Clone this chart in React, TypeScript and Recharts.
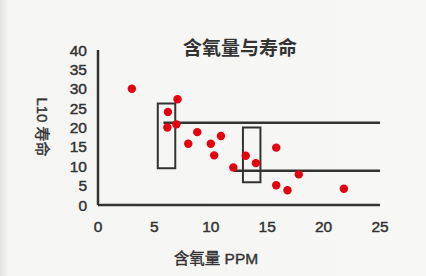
import { ScatterChart, Scatter, XAxis, YAxis, ReferenceArea, ReferenceLine } from "recharts";

// oxygen content (ppm) vs L10 life
const oxygen = [3, 6.2, 6.15, 7.05, 6.95, 8, 8.8, 10, 10.3, 10.9, 12, 13.1, 14, 15.8, 15.8, 16.8, 17.8, 21.8];
const life = [30, 24, 20, 27.3, 20.8, 15.8, 18.8, 15.8, 12.8, 17.8, 9.7, 12.7, 10.8, 14.8, 5.1, 3.8, 7.9, 4.2];

const xTicks = [0, 5, 10, 15, 20, 25];
const yTicks = [0, 5, 10, 15, 20, 25, 30, 35, 40];

// highlighted boxes [x1, x2, y1, y2] and level lines [xStart, y]
const boxes = [
  [5.3, 6.85, 9.5, 26.2],
  [12.85, 14.4, 5.9, 20],
];
const levels = [
  [5.8, 21.2],
  [12, 8.85],
];

const points = oxygen.map((x, i) => ({ x, y: life[i] }));

const FONT = "'Liberation Sans', Arial, 'Noto Sans CJK SC', sans-serif";
const INK = "#333333";
// blurry scan looks semi-bold, fake it with a thin outline
const tickStyle = { fontSize: 15.5, fill: INK, fontFamily: FONT, stroke: INK, strokeWidth: 0.45 };

export default function App() {
  return (
    <div
      style={{
        position: "fixed",
        top: 0,
        left: 0,
        width: 426,
        height: 276,
        background: "linear-gradient(90deg, #e4e2de 0px, #f5f5f3 8px, #f7f7f5 100%)",
        fontFamily: FONT,
      }}
    >
      <div
        style={{
          position: "absolute",
          left: 0,
          width: 480,
          top: 38,
          textAlign: "center",
          fontSize: 19,
          fontWeight: "bold",
          color: INK,
          lineHeight: "22px",
        }}
      >
        含氧量与寿命
      </div>
      <div
        style={{
          position: "absolute",
          left: 43,
          top: 127,
          transform: "translate(-50%, -50%) rotate(90deg)",
          fontSize: 15,
          color: INK,
          whiteSpace: "nowrap",
          WebkitTextStroke: "0.4px #333",
        }}
      >
        L10 寿命
      </div>
      <div
        style={{
          position: "absolute",
          left: 216,
          top: 257,
          transform: "translate(-50%, -50%)",
          fontSize: 15.5,
          color: INK,
          whiteSpace: "nowrap",
          WebkitTextStroke: "0.4px #333",
        }}
      >
        含氧量 PPM
      </div>
      <ScatterChart width={426} height={276} margin={{ top: 50, right: 46, left: 38, bottom: 31 }}>
        <XAxis
          type="number"
          dataKey="x"
          domain={[0, 25]}
          ticks={xTicks}
          height={40}
          axisLine={{ stroke: INK, strokeWidth: 2.5 }}
          tickLine={false}
          tickSize={8}
          tickMargin={8}
          tick={tickStyle}
        />
        <YAxis
          type="number"
          dataKey="y"
          domain={[0, 40]}
          ticks={yTicks}
          width={60}
          axisLine={{ stroke: INK, strokeWidth: 2.5 }}
          tickLine={false}
          tickSize={6}
          tickMargin={5}
          interval={0}
          tick={tickStyle}
        />
        {boxes.map(([x1, x2, y1, y2], i) => (
          <ReferenceArea
            key={"b" + i}
            x1={x1}
            x2={x2}
            y1={y1}
            y2={y2}
            fill="none"
            fillOpacity={0}
            stroke={INK}
            strokeWidth={2}
          />
        ))}
        {levels.map(([x0, y], i) => (
          <ReferenceLine
            key={"l" + i}
            segment={[
              { x: x0, y },
              { x: 25, y },
            ]}
            stroke={INK}
            strokeWidth={2.5}
          />
        ))}
        <Scatter data={points} fill="#e3000f" isAnimationActive={false} shape={(p: any) => <circle cx={p.cx} cy={p.cy} r={4.2} fill="#e3000f" />} />
      </ScatterChart>
    </div>
  );
}
